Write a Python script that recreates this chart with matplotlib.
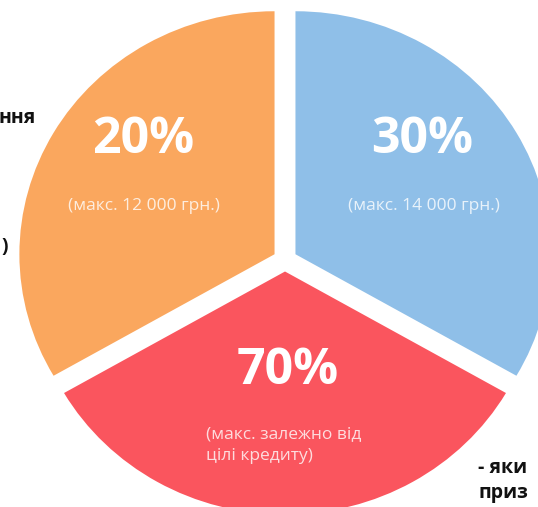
import matplotlib
matplotlib.use("Agg")
import matplotlib.pyplot as plt

# Data (slices are equal thirds in the picture)
categories = ["30%", "70%", "20%"]
notes = ["(макс. 14 000 грн.)", "(макс. залежно від\nцілі кредиту)", "(макс. 12 000 грн.)"]
wedge_shares = [1, 1, 1]
colors = ["#8FBFE8", "#FA555E", "#FAA75E"]

W, H = 538, 507
SX = 1.05  # the reference picture is slightly stretched horizontally
fig = plt.figure(figsize=(W / 100, H / 100), dpi=100)
ax = fig.add_axes([0, 0, 1, 1])

def X(px):
    return px / SX

def Y(py):
    return H - py

R = 243
cx, cy = 285, 260
gap = 11.5
ax.pie(wedge_shares, colors=colors, startangle=90, counterclock=False,
       radius=R, center=(X(cx), Y(cy)), explode=[gap] * 3,
       wedgeprops=dict(linewidth=0), frame=False)
ax.set_aspect("auto")
ax.set_xlim(0, X(W))
ax.set_ylim(0, H)
ax.axis("off")

font = "Open Sans"
big_pos = [(422, 140), (288, 371), (143, 140)]
for (px, py), lab in zip(big_pos, categories):
    ax.text(X(px), Y(py), lab, ha="center", va="center", fontsize=36,
            fontweight="bold", color="white", family=font)

note_pos = [(424, 206, "center"), (206, 445, "left"), (144, 206, "center")]
for (px, py, ha), note in zip(note_pos, notes):
    ax.text(X(px), Y(py), note, ha=ha, va="center", fontsize=12.5,
            color="white", alpha=0.8, family=font, linespacing=1.45)

# Side texts, partly outside the crop in the reference
ax.text(X(36), Y(118), "ння", ha="right", va="center", fontsize=14,
        fontweight="bold", color="#111111", family=font)
ax.text(X(8), Y(247), ")", ha="right", va="center", fontsize=14,
        fontweight="bold", color="#111111", family=font)
ax.text(X(478), Y(468), "- яки", ha="left", va="center", fontsize=14,
        fontweight="bold", color="#111111", family=font)
ax.text(X(479), Y(493), "приз", ha="left", va="center", fontsize=14,
        fontweight="bold", color="#111111", family=font)

fig.savefig("out.png", dpi=100)
